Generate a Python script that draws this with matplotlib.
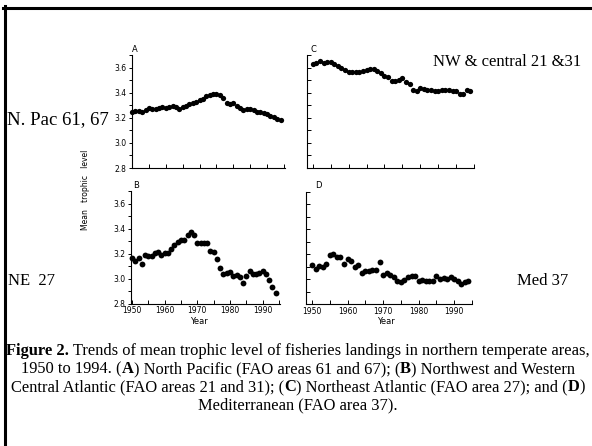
import matplotlib
matplotlib.use('Agg')
import numpy as np
import matplotlib.pyplot as plt
from matplotlib.lines import Line2D
from matplotlib.ticker import MultipleLocator

# Werte (1950-1994)
years = list(range(1950, 1995))

a_pacific = [3.248, 3.254, 3.256, 3.248, 3.262, 3.28, 3.267, 3.272, 3.278, 3.283,
             3.275, 3.283, 3.291, 3.283, 3.27, 3.286, 3.294, 3.312, 3.32, 3.328,
             3.339, 3.353, 3.371, 3.382, 3.393, 3.393, 3.382, 3.358, 3.318, 3.312,
             3.315, 3.296, 3.278, 3.264, 3.272, 3.267, 3.259, 3.243, 3.245, 3.235,
             3.229, 3.216, 3.203, 3.187, 3.181]

b_nw_atlantic = [3.163, 3.141, 3.163, 3.12, 3.19, 3.181, 3.181, 3.203, 3.213, 3.187,
                 3.21, 3.21, 3.235, 3.27, 3.296, 3.307, 3.307, 3.35, 3.374, 3.353,
                 3.288, 3.286, 3.283, 3.288, 3.224, 3.213, 3.155, 3.09, 3.037, 3.05,
                 3.053, 3.021, 3.031, 3.015, 2.968, 3.021, 3.064, 3.037, 3.04, 3.05,
                 3.064, 3.042, 2.994, 2.93, 2.882]

c_ne_atlantic = [3.63, 3.635, 3.656, 3.637, 3.648, 3.642, 3.627, 3.616, 3.595, 3.581,
                 3.568, 3.563, 3.563, 3.568, 3.576, 3.584, 3.589, 3.589, 3.57, 3.555,
                 3.536, 3.523, 3.496, 3.491, 3.504, 3.515, 3.483, 3.47, 3.424, 3.41,
                 3.437, 3.43, 3.424, 3.419, 3.413, 3.413, 3.424, 3.424, 3.419, 3.416,
                 3.416, 3.386, 3.386, 3.424, 3.416]

d_med = [3.11, 3.084, 3.105, 3.097, 3.121, 3.19, 3.201, 3.18, 3.18, 3.124,
         3.164, 3.142, 3.097, 3.113, 3.051, 3.065, 3.065, 3.076, 3.076, 3.137,
         3.035, 3.046, 3.035, 3.017, 2.987, 2.979, 2.99, 3.014, 3.027, 3.027,
         2.982, 2.99, 2.987, 2.985, 2.985, 3.022, 2.998, 3.009, 3.0, 3.017,
         2.998, 2.987, 2.963, 2.977, 2.982]

panel_letters = ["A", "B", "C", "D"]
side_labels = ["N. Pac 61, 67", "NE  27", "NW & central 21 &31", "Med 37"]
decade_labels = ["1950", "", "1960", "", "1970", "", "1980", "", "1990", ""]

W, H = 592, 446
fig = plt.figure(figsize=(W / 100, H / 100), dpi=100)


def rect(x0, y0, x1, y1):
    # Pixelkoordinaten (oben links) -> Figurkoordinaten
    return [x0 / W, 1 - y1 / H, (x1 - x0) / W, (y1 - y0) / H]


def px(x, y):
    return x / W, 1 - y / H


def panel(r, values, xlim, labels_y, labels_x, ms):
    ax = fig.add_axes(r)
    ax.plot(years, values, 'o', color='black', ms=ms, mew=0, clip_on=False)
    ax.set_xlim(*xlim)
    ax.set_ylim(2.8, 3.7)
    for s in ['top', 'right']:
        ax.spines[s].set_visible(False)
    for s in ['left', 'bottom']:
        ax.spines[s].set_linewidth(0.8)
    ax.set_xticks(range(1950, 1996, 5))
    ax.set_xticklabels(decade_labels if labels_x else [])
    ax.tick_params(axis='x', direction='in', length=3, width=0.7, labelsize=5.5, pad=2)
    if labels_y:
        ax.set_yticks([2.8, 3.0, 3.2, 3.4, 3.6])
        ax.set_yticklabels(["2.8", "3.0", "3.2", "3.4", "3.6"])
        ax.yaxis.set_minor_locator(MultipleLocator(0.1))
        ax.tick_params(axis='y', which='both', direction='out', length=2.5,
                       width=0.7, labelsize=5.5, pad=1.5)
    else:
        ax.set_yticks(np.arange(2.8, 3.71, 0.1))
        ax.set_yticklabels([])
        ax.tick_params(axis='y', direction='in', length=3, width=0.7)
    return ax


panel(rect(132, 55, 285, 168), a_pacific, (1950, 1995.3), True, False, 3.8)
panel(rect(131, 191.5, 280, 303.7), b_nw_atlantic, (1949.7, 1995.3), True, True, 4.2)
panel(rect(306.7, 55, 474, 168), c_ne_atlantic, (1948.3, 1995), False, False, 3.8)
panel(rect(306, 191.5, 472, 304), d_med, (1948.3, 1995), False, True, 4.2)

# Buchstaben der Teilbilder
for letter, (x, y) in zip(panel_letters, [(135, 50), (136, 186), (313, 50), (318, 186)]):
    fig.text(*px(x, y), letter, fontsize=6, ha='center', va='center')

fig.text(*px(199, 321), "Year", fontsize=6, ha='center', va='center')
fig.text(*px(386, 321), "Year", fontsize=6, ha='center', va='center')
fig.text(*px(86, 190), "Mean   trophic   level", fontsize=5.5, rotation=90,
         ha='center', va='center')

# Beschriftungen der Regionen
serif = 'Liberation Serif'
fig.text(*px(7, 120), side_labels[0], family=serif, fontsize=13.5, ha='left', va='center')
fig.text(*px(8, 281), side_labels[1], family=serif, fontsize=12, ha='left', va='center')
fig.text(*px(433, 62), side_labels[2], family=serif, fontsize=12, ha='left', va='center')
fig.text(*px(517, 281), side_labels[3], family=serif, fontsize=12, ha='left', va='center')

# Bildunterschrift mit fetten Teilen
caption = [
    [("Figure 2.", True), (" Trends of mean trophic level of fisheries landings in northern temperate areas,", False)],
    [("1950 to 1994. (", False), ("A", True), (") North Pacific (FAO areas 61 and 67); (", False),
     ("B", True), (") Northwest and Western", False)],
    [("Central Atlantic (FAO areas 21 and 31); (", False), ("C", True),
     (") Northeast Atlantic (FAO area 27); and (", False), ("D", True), (")", False)],
    [("Mediterranean (FAO area 37).", False)],
]
cap_size = 11.85
renderer = fig.canvas.get_renderer()
for i, line in enumerate(caption):
    y = 351 + i * 18
    texts = []
    for seg, bold in line:
        t = fig.text(0, 1 - y / H, seg, family=serif, fontsize=cap_size,
                     weight='bold' if bold else 'normal', va='center', ha='left')
        texts.append(t)
    widths = [t.get_window_extent(renderer).width for t in texts]
    x = 298 - sum(widths) / 2
    for t, w in zip(texts, widths):
        t.set_x(x / W)
        x += w

# Rahmen oben und links
fig.add_artist(Line2D([3 / W, 1], [1 - 7.5 / H, 1 - 7.5 / H], color='black', lw=2.2))
fig.add_artist(Line2D([4.5 / W, 4.5 / W], [0, 1 - 6 / H], color='black', lw=2.2))

fig.savefig("out.png", dpi=100)
